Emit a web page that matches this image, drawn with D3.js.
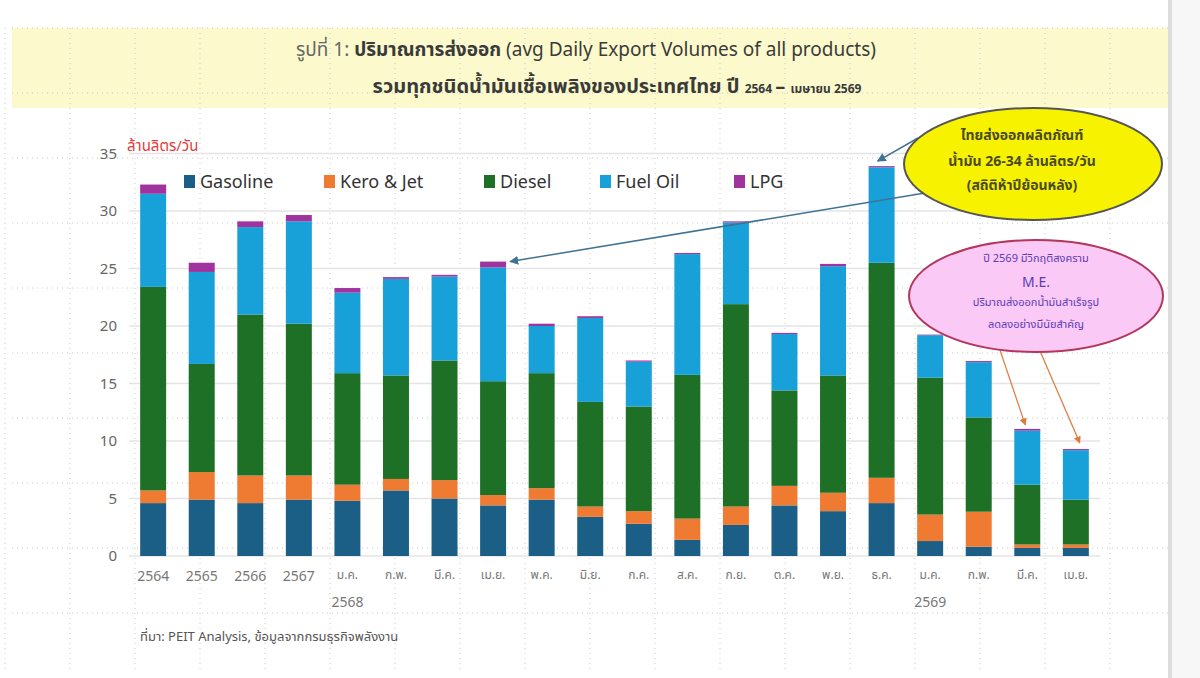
<!DOCTYPE html>
<html>
<head>
<meta charset="utf-8">
<script src="https://cdn.jsdelivr.net/npm/d3@7/dist/d3.min.js"></script>
<style>
    body { margin: 0; background: #ffffff; }
    svg text { font-family: "Noto Sans Thai", "Noto Sans", "DejaVu Sans", sans-serif; }
</style>
</head>
<body>
<svg id="chart" width="1200" height="678"></svg>
<script>
// ---- data (ล้านลิตร/วัน) ----
let monthLabels = ["2564", "2565", "2566", "2567", "ม.ค.", "ก.พ.", "มี.ค.", "เม.ย.", "พ.ค.", "มิ.ย.",
    "ก.ค.", "ส.ค.", "ก.ย.", "ต.ค.", "พ.ย.", "ธ.ค.", "ม.ค.", "ก.พ.", "มี.ค.", "เม.ย."];
let yearLabels = ["", "", "", "", "2568", "", "", "", "", "", "", "", "", "", "", "", "2569", "", "", ""];

let seriesNames = ["Gasoline", "Kero & Jet", "Diesel", "Fuel Oil", "LPG"];
let gasoline = [4.6, 4.9, 4.6, 4.9, 4.8, 5.7, 5.0, 4.4, 4.9, 3.4, 2.8, 1.4, 2.7, 4.4, 3.9, 4.6, 1.3, 0.8, 0.7, 0.7];
let keroJet = [1.1, 2.4, 2.4, 2.1, 1.4, 1.0, 1.6, 0.9, 1.0, 0.9, 1.1, 1.85, 1.6, 1.7, 1.6, 2.2, 2.3, 3.05, 0.3, 0.3];
let diesel = [17.7, 9.4, 14.0, 13.2, 9.7, 9.0, 10.4, 9.9, 10.0, 9.1, 9.1, 12.5, 17.6, 8.3, 10.2, 18.7, 11.9, 8.2, 5.2, 3.9];
let fuelOil = [8.1, 8.0, 7.6, 8.9, 7.0, 8.4, 7.3, 9.9, 4.1, 7.3, 3.9, 10.5, 7.1, 4.9, 9.5, 8.3, 3.7, 4.8, 4.7, 4.3];
let lpg = [0.8, 0.8, 0.5, 0.55, 0.4, 0.15, 0.15, 0.5, 0.2, 0.15, 0.1, 0.1, 0.1, 0.1, 0.2, 0.1, 0.05, 0.1, 0.15, 0.1];

let yTicks = [0, 5, 10, 15, 20, 25, 30, 35];

let colors = ["#1b5f86", "#ef7b32", "#1d7026", "#18a0d9", "#a0339e"];

// build rows for d3.stack
let keys = ["gasoline", "kero", "diesel", "fuelOil", "lpg"];
let rows = monthLabels.map((m, i) => ({
    id: i,
    gasoline: gasoline[i],
    kero: keroJet[i],
    diesel: diesel[i],
    fuelOil: fuelOil[i],
    lpg: lpg[i]
}));

let svg = d3.select("#chart");

// slide background stuff
svg.append("rect").attr("x", 1168).attr("y", 0).attr("width", 4).attr("height", 678).attr("fill", "#dcdcdc");
svg.append("rect").attr("x", 1172).attr("y", 0).attr("width", 28).attr("height", 678).attr("fill", "#f7f7f7");
svg.append("rect").attr("x", 12).attr("y", 28).attr("width", 1156).attr("height", 80).attr("fill", "#fcfacc");

// dotted editing grid of the slide (65px)
let gridG = svg.append("g").attr("stroke", "#c8c8c8").attr("stroke-dasharray", "1,4").attr("stroke-width", 1);
d3.range(5, 1168, 65).forEach(x => {
    gridG.append("line").attr("x1", x).attr("x2", x).attr("y1", 28).attr("y2", 670);
});
d3.range(28, 670, 65).forEach(y => {
    gridG.append("line").attr("x1", 12).attr("x2", 1168).attr("y1", y).attr("y2", y);
});

// title
let title = svg.append("g").attr("fill", "#3a3a3a");
let t1 = title.append("text").attr("x", 586).attr("y", 56).attr("text-anchor", "middle").attr("font-size", 19);
t1.append("tspan").attr("fill", "#666").text("รูปที่ 1: ");
t1.append("tspan").attr("font-weight", "bold").text("ปริมาณการส่งออก ");
t1.append("tspan").text("(avg Daily Export Volumes of all products)");
let t2 = title.append("text").attr("x", 617).attr("y", 93).attr("text-anchor", "middle")
    .attr("font-size", 20).attr("font-weight", "bold");
t2.append("tspan").text("รวมทุกชนิดน้ำมันเชื้อเพลิงของประเทศไทย ปี ");
t2.append("tspan").attr("font-size", 12).text("2564 ");
t2.append("tspan").text("– ");
t2.append("tspan").attr("font-size", 12).text("เมษายน 2569");

// scales
let x = d3.scaleBand()
    .domain(rows.map(d => d.id))
    .range([129, 1100])
    .paddingInner(0.465)
    .paddingOuter(0.23);

let y = d3.scaleLinear()
    .domain([0, 35])
    .range([556, 153.5]);

// horizontal gridlines
svg.append("g")
    .selectAll("line")
    .data(yTicks)
    .join("line")
    .attr("x1", 129)
    .attr("x2", 1100)
    .attr("y1", d => y(d))
    .attr("y2", d => y(d))
    .attr("stroke", "#e4e4e4")
    .attr("stroke-width", 1.5);

// y axis labels
let yAxis = d3.axisLeft(y).tickValues(yTicks).tickSize(0).tickPadding(0);
svg.append("g")
    .attr("transform", "translate(117,0)")
    .call(yAxis)
    .call(g => g.select(".domain").remove())
    .selectAll("text")
    .attr("font-size", 15)
    .attr("fill", "#666");

svg.append("text")
    .attr("x", 127).attr("y", 151)
    .attr("font-size", 15)
    .attr("fill", "#e23b3b")
    .text("ล้านลิตร/วัน");

// stacked bars
let stacked = d3.stack().keys(keys)(rows);

svg.append("g")
    .selectAll("g")
    .data(stacked)
    .join("g")
    .attr("fill", (d, i) => colors[i])
    .selectAll("rect")
    .data(d => d)
    .join("rect")
    .attr("x", d => x(d.data.id))
    .attr("y", d => y(d[1]))
    .attr("width", x.bandwidth())
    .attr("height", d => y(d[0]) - y(d[1]));

// x axis labels
let xAxis = d3.axisBottom(x).tickSize(0).tickPadding(0).tickFormat(i => monthLabels[i]);
svg.append("g")
    .attr("transform", "translate(0,568)")
    .call(xAxis)
    .call(g => g.select(".domain").remove())
    .selectAll("text")
    .attr("dy", "0.9em")
    .attr("font-size", (d, i) => i < 4 ? 14 : 12)
    .attr("fill", "#777");

svg.append("g")
    .selectAll("text")
    .data(rows.filter(d => yearLabels[d.id] != ""))
    .join("text")
    .attr("x", d => x(d.id) + x.bandwidth() / 2)
    .attr("y", 607)
    .attr("text-anchor", "middle")
    .attr("font-size", 14)
    .attr("fill", "#777")
    .text(d => yearLabels[d.id]);

// legend
let legendX = [184, 324, 484, 600, 734];
let legend = svg.append("g")
    .selectAll("g")
    .data(seriesNames)
    .join("g")
    .attr("transform", (d, i) => "translate(" + legendX[i] + ",174)");
legend.append("rect").attr("width", 11).attr("height", 13).attr("y", 1).attr("fill", (d, i) => colors[i]);
legend.append("text").attr("x", 16).attr("y", 14).attr("font-size", 18).attr("fill", "#333").text(d => d);

// source
svg.append("text")
    .attr("x", 140).attr("y", 641)
    .attr("font-size", 13)
    .attr("fill", "#555")
    .text("ที่มา: PEIT Analysis, ข้อมูลจากกรมธุรกิจพลังงาน");

// ---- callouts ----
let total = i => gasoline[i] + keroJet[i] + diesel[i] + fuelOil[i] + lpg[i];

let defs = svg.append("defs");
function marker(id, color) {
    defs.append("marker")
        .attr("id", id)
        .attr("viewBox", "0 0 10 10")
        .attr("refX", 9).attr("refY", 5)
        .attr("markerWidth", 6).attr("markerHeight", 6)
        .attr("orient", "auto")
        .append("path")
        .attr("d", "M0,0L10,5L0,10z")
        .attr("fill", color);
}
marker("arrBlue", "#3f7394");
marker("arrOrange", "#e0783a");

// yellow callout arrows (to ธ.ค. 2568 and เม.ย. 2568)
svg.append("line")
    .attr("x1", 918).attr("y1", 138)
    .attr("x2", x(15) + x.bandwidth() / 2 - 4).attr("y2", y(total(15)) - 5)
    .attr("stroke", "#3f7394").attr("stroke-width", 1.5)
    .attr("marker-end", "url(#arrBlue)");
svg.append("line")
    .attr("x1", 925).attr("y1", 193)
    .attr("x2", x(7) + x.bandwidth() + 4).attr("y2", y(total(7)))
    .attr("stroke", "#3f7394").attr("stroke-width", 1.5)
    .attr("marker-end", "url(#arrBlue)");

svg.append("ellipse")
    .attr("cx", 1033).attr("cy", 164).attr("rx", 129).attr("ry", 56)
    .attr("fill", "#f7f300").attr("stroke", "#555").attr("stroke-width", 2);

let yText = svg.append("g").attr("font-size", 14).attr("font-weight", "bold")
    .attr("fill", "#4b4a22").attr("text-anchor", "middle");
yText.append("text").attr("x", 1022).attr("y", 140).text("ไทยส่งออกผลิตภัณฑ์");
yText.append("text").attr("x", 1022).attr("y", 166).text("น้ำมัน 26-34 ล้านลิตร/วัน");
yText.append("text").attr("x", 1022).attr("y", 190).text("(สถิติห้าปีย้อนหลัง)");

// pink callout + arrows to มี.ค./เม.ย. 2569
svg.append("line")
    .attr("x1", 1000).attr("y1", 350)
    .attr("x2", x(18) + x.bandwidth() / 2 - 2).attr("y2", y(total(18)) - 4)
    .attr("stroke", "#e0783a").attr("stroke-width", 1.2)
    .attr("marker-end", "url(#arrOrange)");
svg.append("line")
    .attr("x1", 1040).attr("y1", 351)
    .attr("x2", x(19) + x.bandwidth() / 2 + 4).attr("y2", y(total(19)) - 6)
    .attr("stroke", "#e0783a").attr("stroke-width", 1.2)
    .attr("marker-end", "url(#arrOrange)");

svg.append("ellipse")
    .attr("cx", 1036).attr("cy", 296).attr("rx", 127).attr("ry", 56)
    .attr("fill", "#fbc9f6").attr("stroke", "#b3375c").attr("stroke-width", 2);

let pText = svg.append("g").attr("fill", "#5a3cb4").attr("text-anchor", "middle").attr("font-size", 11);
pText.append("text").attr("x", 1036).attr("y", 262).text("ปี 2569 มีวิกฤติสงคราม");
pText.append("text").attr("x", 1036).attr("y", 287).attr("font-size", 14).text("M.E.");
pText.append("text").attr("x", 1036).attr("y", 306).text("ปริมาณส่งออกน้ำมันสำเร็จรูป");
pText.append("text").attr("x", 1036).attr("y", 328).text("ลดลงอย่างมีนัยสำคัญ");
</script>
</body>
</html>
